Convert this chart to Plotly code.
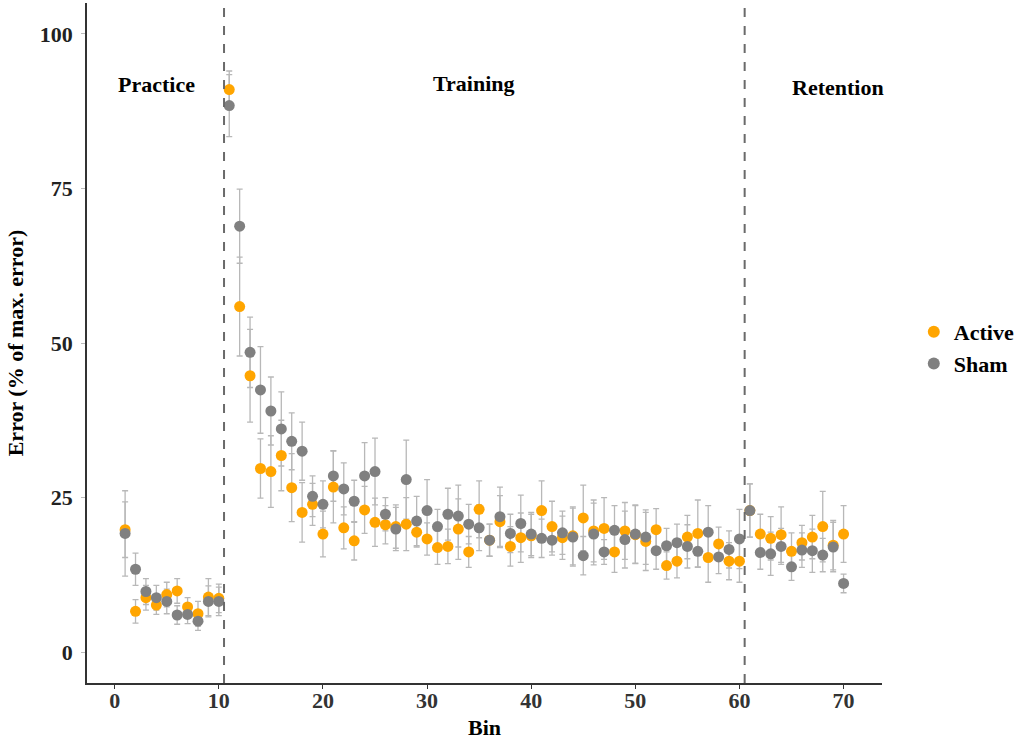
import plotly.graph_objects as go

bins = list(range(1, 71))

active = [19.8, 6.6, 8.8, 7.6, 9.3, 9.9, 7.3, 6.2, 8.9, 8.7,
          91.0, 55.9, 44.7, 29.7, 29.2, 31.8, 26.6, 22.6, 23.9, 19.1,
          26.7, 20.1, 18.0, 23.0, 21.0, 20.6, 20.3, 20.7, 19.4, 18.3,
          16.9, 17.1, 19.9, 16.2, 23.1, 18.1, 21.1, 17.1, 18.5, 18.8,
          22.9, 20.3, 18.5, 18.8, 21.7, 19.6, 20.0, 16.2, 19.6, 19.0,
          17.9, 19.8, 14.0, 14.7, 18.6, 19.2, 15.3, 17.5, 14.7, 14.7,
          22.9, 19.1, 18.4, 19.0, 16.3, 17.7, 18.6, 20.3, 17.3, 19.1]
active_err = [4.5, 1.9, 2.0, 1.5, 2.0, 2.0, 1.5, 2.0, 3.0, 2.3,
              3.0, 8.0, 7.5, 4.8, 5.8, 5.7, 5.5, 4.8, 3.4, 3.7,
              5.8, 3.4, 3.1, 3.8, 3.9, 3.1, 3.5, 4.3, 2.4, 2.6,
              2.7, 2.8, 4.9, 2.5, 4.6, 2.6, 4.2, 3.2, 4.0, 3.5,
              4.8, 4.1, 3.5, 4.7, 5.3, 5.0, 5.0, 3.3, 4.6, 4.7,
              4.7, 3.4, 2.2, 2.7, 3.5, 5.4, 4.0, 2.7, 3.0, 3.4,
              4.3, 3.2, 3.5, 4.5, 3.0, 2.8, 3.5, 5.7, 4.0, 4.6]

sham = [19.2, 13.4, 9.8, 8.8, 8.2, 6.0, 6.1, 5.0, 8.2, 8.2,
        88.4, 68.9, 48.5, 42.4, 39.0, 36.1, 34.1, 32.5, 25.2, 23.9,
        28.5, 26.4, 24.4, 28.5, 29.2, 22.3, 19.9, 27.9, 21.2, 22.9,
        20.3, 22.3, 22.0, 20.7, 20.1, 18.1, 21.9, 19.2, 20.8, 19.1,
        18.4, 18.1, 19.3, 18.6, 15.6, 19.1, 16.2, 19.7, 18.2, 19.1,
        18.6, 16.4, 17.2, 17.7, 17.1, 16.3, 19.4, 15.4, 16.6, 18.3,
        22.9, 16.1, 15.9, 17.1, 13.8, 16.5, 16.4, 15.7, 17.0, 11.1]
sham_err = [6.9, 2.6, 2.1, 2.0, 2.0, 1.5, 1.5, 1.5, 2.5, 2.3,
            5.0, 6.0, 5.7, 7.0, 5.5, 6.0, 4.6, 4.7, 3.3, 3.8,
            4.1, 4.2, 3.4, 5.4, 5.4, 2.7, 3.5, 6.4, 4.0, 5.0,
            2.8, 4.2, 5.0, 3.2, 3.7, 2.6, 4.8, 3.1, 4.6, 3.5,
            3.1, 2.4, 3.5, 4.7, 3.1, 5.0, 2.0, 4.0, 4.6, 4.7,
            4.4, 3.0, 2.8, 3.0, 3.5, 2.6, 4.3, 2.7, 3.0, 4.8,
            4.3, 2.7, 3.5, 2.9, 2.2, 2.8, 3.5, 2.7, 4.0, 1.5]

phase_labels = ["Practice", "Training", "Retention"]
phase_x = [4, 34.5, 69.5]
phase_y = [91.8, 92.0, 91.3]
phase_bounds = [10.5, 60.5]

x_ticks = [0, 10, 20, 30, 40, 50, 60, 70]
y_ticks = [0, 25, 50, 75, 100]

ORANGE = "#FFA500"
GREY = "#808080"
ERRC = "#B8B8B8"
FONT = "Liberation Serif"
FS = 22

fig = go.Figure()

# error bars first (beneath points)
for vals, errs in [(active, active_err), (sham, sham_err)]:
    fig.add_trace(go.Scatter(
        x=bins, y=vals, mode="markers",
        marker=dict(size=1, color="rgba(0,0,0,0)"),
        error_y=dict(type="data", array=errs, visible=True,
                     color=ERRC, thickness=1.3, width=3),
        showlegend=False, hoverinfo="skip"))

fig.add_trace(go.Scatter(x=bins, y=active, mode="markers", name="Active",
                         marker=dict(size=11, color=ORANGE, line=dict(width=0))))
fig.add_trace(go.Scatter(x=bins, y=sham, mode="markers", name="Sham",
                         marker=dict(size=11, color=GREY, line=dict(width=0))))

for xb in phase_bounds:
    fig.add_vline(x=xb, line=dict(color="#6A6A6A", width=2, dash="dash"))

for lab, xa, ya in zip(phase_labels, phase_x, phase_y):
    fig.add_annotation(x=xa, y=ya, text=lab, showarrow=False,
                       font=dict(family=FONT, size=FS, color="black", weight="bold"))

fig.update_layout(
    width=1025, height=740,
    margin=dict(l=87, r=143, t=3, b=57),
    plot_bgcolor="white", paper_bgcolor="white",
    font=dict(family=FONT, size=FS, color="black"),
    legend=dict(x=1.04, y=0.4926, xanchor="left", yanchor="middle",
                font=dict(family=FONT, size=FS, color="black", weight="bold"),
                itemsizing="constant", tracegroupgap=4),
    xaxis=dict(range=[-2.66, 73.69], tickvals=x_ticks, automargin=False,
               showgrid=False, zeroline=False,
               showline=True, linecolor="#333333", linewidth=1.5,
               ticks="outside", ticklen=4, tickcolor="#333333", tickwidth=1,
               ticklabelstandoff=-7,
               tickfont=dict(family=FONT, size=FS, color="#333333", weight="bold"),
               title=dict(text="Bin", standoff=10,
                          font=dict(family=FONT, size=FS, color="black", weight="bold"))),
    yaxis=dict(range=[-5, 105], tickvals=y_ticks, automargin=False,
               showgrid=False, zeroline=False,
               showline=True, linecolor="#333333", linewidth=1.5,
               ticks="outside", ticklen=4, tickcolor="#BBBBBB", tickwidth=1,
               ticklabelstandoff=4,
               tickfont=dict(family=FONT, size=FS, color="#222222", weight="bold"),
               title=dict(text="Error (% of max. error)", standoff=10,
                          font=dict(family=FONT, size=FS, color="black", weight="bold"))),
)

fig.write_html("out.html", config={"displayModeBar": False},
               post_script="document.body.style.margin='0';document.body.style.overflow='hidden';")
